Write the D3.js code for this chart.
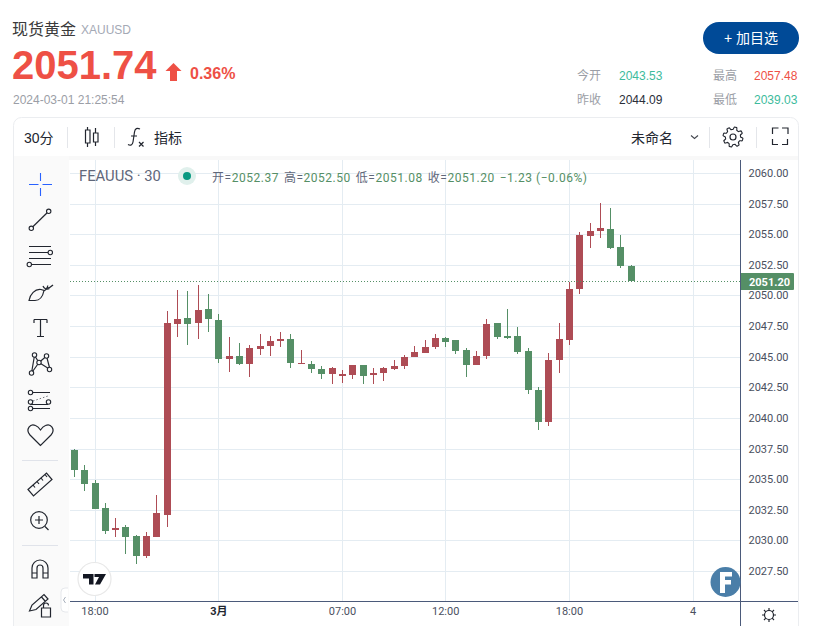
<!DOCTYPE html>
<html><head><meta charset="utf-8">
<script src="https://cdn.jsdelivr.net/npm/d3@7"></script>
<style>
html,body{margin:0;padding:0;background:#fff;overflow:hidden}
svg{display:block}
text{font-family:"Liberation Sans","Noto Sans CJK SC",sans-serif}
.axt text{font-family:Roboto,"Noto Sans CJK SC",sans-serif}
</style></head><body>
<svg id="c" width="824" height="626"></svg>
<script>
// ---- data ----
const opens =[2037.37,2035.74,2034.68,2032.64,2030.84,2031.09,2030.35,2028.72,2030.27,2032.07,2047.66,2048.15,2047.74,2048.88,2047.99,2044.80,2045.05,2044.39,2045.62,2045.86,2046.27,2046.44,2044.39,2044.43,2044.02,2043.61,2043.45,2043.53,2044.34,2043.53,2043.69,2044.02,2044.26,2045.00,2045.32,2045.81,2046.55,2046.38,2045.57,2044.34,2045.08,2047.77,2046.71,2046.71,2045.49,2042.30,2039.69,2044.69,2046.33,2050.50,2054.83,2055.24,2055.40,2053.93,2052.37];
const highs =[2037.46,2036.15,2034.93,2033.05,2031.82,2031.25,2030.44,2030.68,2033.70,2048.72,2050.44,2050.35,2050.84,2050.11,2048.48,2046.60,2046.11,2045.95,2046.84,2046.68,2047.01,2046.84,2045.54,2044.67,2044.26,2044.18,2043.94,2044.34,2044.34,2044.10,2044.18,2044.75,2045.16,2045.89,2046.38,2046.87,2046.63,2046.38,2045.73,2045.49,2048.10,2047.77,2048.91,2047.45,2045.73,2042.55,2045.32,2047.72,2051.07,2055.16,2055.89,2057.53,2057.12,2054.91,2052.50];
const lows  =[2035.17,2034.03,2032.56,2030.52,2030.27,2028.88,2028.07,2028.56,2030.27,2031.09,2046.60,2045.95,2046.44,2047.01,2044.48,2043.74,2044.31,2043.33,2045.13,2045.05,2045.78,2044.07,2044.39,2043.69,2043.20,2042.79,2042.87,2043.20,2042.79,2042.79,2043.04,2043.94,2044.02,2045.00,2045.32,2045.65,2045.81,2045.24,2043.36,2044.34,2044.83,2046.47,2046.47,2045.24,2041.98,2039.04,2039.36,2043.63,2045.92,2050.09,2053.85,2054.67,2053.77,2052.21,2051.08];
const closes=[2035.74,2034.60,2032.56,2030.76,2031.01,2030.27,2028.72,2030.35,2032.23,2047.74,2048.07,2047.66,2048.80,2048.07,2044.80,2045.05,2044.39,2045.70,2045.86,2046.27,2046.44,2044.48,2044.48,2044.02,2043.61,2044.10,2043.61,2044.34,2043.45,2043.69,2044.10,2044.26,2045.00,2045.40,2045.81,2046.55,2046.22,2045.49,2044.34,2045.08,2047.69,2046.63,2046.55,2045.40,2042.30,2039.69,2044.75,2046.41,2050.50,2054.91,2055.24,2055.48,2053.85,2052.38,2051.20];
const yTickValues=[2060,2057.5,2055,2052.5,2050,2047.5,2045,2042.5,2040,2037.5,2035,2032.5,2030,2027.5];
const xTickBars=[2,14,26,36,48,60];
const xTickLabels=["18:00","3月","07:00","12:00","18:00","4"];
const lastPrice=2051.20;
const legendLabels=["开=","高=","低=","收="];
const legendValues=["2052.37","2052.50","2051.08","2051.20"];
const legendChange="−1.23 (−0.06%)";
const statLabels=["今开","昨收","最高","最低"];
const statValues=["2043.53","2044.09","2057.48","2039.03"];
const statColors=["#3dbb9c","#2a2e39","#ee5045","#3dbb9c"];

const UP="#ae4c55",DOWN="#558f66",GRID="#e4ecf2",AXIS="#4b5a7a",TXT="#4a4f5e",ICON="#22262f";
const svg=d3.select("#c");
const x=d3.scaleLinear().domain([0,54]).range([74.4,631.3]);
const y=d3.scaleLinear().domain([2027.5,2060]).range([571,173]);
const snapY=v=>Math.round(y(v));

function T(px,py,s,size,fill,opt={}){
  const t=svg.append("text").attr("x",px).attr("y",py).attr("font-size",size).attr("fill",fill).text(s);
  if(opt.anchor)t.attr("text-anchor",opt.anchor);
  if(opt.weight)t.attr("font-weight",opt.weight);
  if(opt.family)t.style("font-family",opt.family);
  return t;
}
// panel
svg.append("rect").attr("x",13.5).attr("y",117.5).attr("width",785).attr("height",530).attr("rx",8).attr("fill","#fff").attr("stroke","#ebedf0");
svg.append("rect").attr("x",14).attr("y",156).attr("width",784).attr("height",4).attr("fill","#f8f8f8");
svg.append("rect").attr("x",14).attr("y",156).attr("width",55).attr("height",470).attr("fill","#fafafa");

// header
T(12,35,"现货黄金",16,"#3a3a3a");
T(81,34,"XAUUSD",12,"#a4a9b5");
T(12,79,"2051.74",40,"#ee5045",{weight:"bold"});
svg.append("path").attr("d","M173.500 63l-8 8h4.500v10h7v-10h4.500z").attr("fill","#ee5045");
T(190,79,"0.36%",16,"#ee5045",{weight:"bold"});
T(13,104,"2024-03-01 21:25:54",12,"#9b9ea6");
svg.append("rect").attr("x",703).attr("y",22).attr("width",96).attr("height",32).attr("rx",16).attr("fill","#004a97");
T(751,43,"+ 加目选",14,"#fff",{anchor:"middle"});
[[577,619,80],[577,619,104],[713,754,80],[713,754,104]].forEach((p,i)=>{
  T(p[0],p[2],statLabels[i],12,"#9b9ea6");
  T(p[1],p[2],statValues[i],12,statColors[i]);
});

// top toolbar
T(24,143,"30分",14,"#22262f");
T(154,143,"指标",14,"#22262f");
T(631,143,"未命名",14,"#22262f");
[67.5,114.5,709.5,756.5].forEach(px=>svg.append("line").attr("x1",px).attr("x2",px).attr("y1",127).attr("y2",148).attr("stroke","#e4e6ea"));
const icon=(d,w=1.2,c=ICON,f="none")=>svg.append("path").attr("d",d).attr("fill",f).attr("stroke",c).attr("stroke-width",w);
icon("M87.500 127v3M87.500 143v4M85.500 130h4.500v13h-4.500zM95.500 128v5M95.500 142v4M93.500 133h4.500v9h-4.500z");
icon("M140 129c-3-1.500-5-.5-5.500 3l-1.500 10c-.5 3-2.500 4-5 2.500M131 136h6");
icon("M139 142l4.500 4.500M143.500 142l-4.500 4.500");
icon("M691 135.500l3.500 3 3.500-3",1.1,"#44484f");
// gear
const gearPts=d3.range(0,48).map(i=>{const a=(i+1)/48*2*Math.PI,k=Math.floor(i/3)%2===0,r=k?10:7.6;return [733+r*Math.cos(a),137+r*Math.sin(a)];});
svg.append("path").attr("d",d3.line().curve(d3.curveCardinalClosed.tension(.6))(gearPts)).attr("fill","none").attr("stroke",ICON).attr("stroke-width",1.1);
svg.append("circle").attr("cx",733).attr("cy",137).attr("r",3).attr("fill","none").attr("stroke",ICON).attr("stroke-width",1.2);
icon("M772.500 134v-6h6M782 128h6v6M787.500 139v5.500h-5.500M778 144.500h-5.500V139");

// grid
const g=svg.append("g");
yTickValues.forEach(v=>g.append("line").attr("x1",70).attr("x2",740).attr("y1",snapY(v)+.5).attr("y2",snapY(v)+.5).attr("stroke",GRID));
xTickBars.forEach(b=>g.append("line").attr("x1",Math.floor(x(b))+.5).attr("x2",Math.floor(x(b))+.5).attr("y1",160).attr("y2",601).attr("stroke",GRID));

// legend
T(79,181,"FEAUUS · 30",14.8,"#5f677a",{family:"Roboto"});
svg.append("circle").attr("cx",187).attr("cy",176).attr("r",9).attr("fill","#e0f0ec");
svg.append("circle").attr("cx",187).attr("cy",176).attr("r",4).attr("fill","#089981");
const leg=svg.append("text").attr("x",212).attr("y",182).attr("font-size",12).attr("letter-spacing",.52).style("font-family","Roboto,'Noto Sans CJK SC'");
legendLabels.forEach((l,i)=>{
  leg.append("tspan").attr("fill","#5f677a").attr("dx",i?5:0).text(l);
  leg.append("tspan").attr("fill",DOWN).text(legendValues[i]);
});
leg.append("tspan").attr("fill",DOWN).attr("dx",5).text(legendChange);

// candles
const idx=d3.range(opens.length);
const col=i=>closes[i]>=opens[i]?UP:DOWN;
svg.append("g").selectAll("rect").data(idx).join("rect")
  .attr("x",i=>Math.floor(x(i))).attr("width",1)
  .attr("y",i=>snapY(highs[i])).attr("height",i=>snapY(lows[i])-snapY(highs[i]))
  .attr("fill",col);
svg.append("g").selectAll("rect").data(idx).join("rect")
  .attr("x",i=>Math.floor(x(i))-3).attr("width",7)
  .attr("y",i=>snapY(Math.max(opens[i],closes[i])))
  .attr("height",i=>Math.max(1,snapY(Math.min(opens[i],closes[i]))-snapY(Math.max(opens[i],closes[i]))))
  .attr("fill",col);

// last price line
svg.append("line").attr("x1",70).attr("x2",740).attr("y1",snapY(lastPrice)+.5).attr("y2",snapY(lastPrice)+.5)
  .attr("stroke",DOWN).attr("stroke-dasharray","1 2");

// axes
const yAxis=d3.axisRight(y).tickValues(yTickValues).tickFormat(d3.format(".2f")).tickSize(0).tickPadding(8);
svg.append("g").attr("class","axt").attr("transform","translate(740.5,0)").call(yAxis)
  .call(s=>s.select(".domain").remove())
  .call(s=>s.selectAll("text").attr("font-size",11).attr("fill",TXT));
const xAxis=d3.axisBottom(x).tickValues(xTickBars).tickFormat((d,i)=>xTickLabels[i]).tickSize(0).tickPadding(6);
svg.append("g").attr("class","axt").attr("transform","translate(-0.5,601.5)").call(xAxis)
  .call(s=>s.select(".domain").remove())
  .call(s=>s.selectAll("text").attr("font-size",11).attr("fill",(d,i)=>i===1?"#22262f":TXT).attr("font-weight",(d,i)=>i===1?"bold":null));
svg.append("line").attr("x1",740.5).attr("x2",740.5).attr("y1",160).attr("y2",626).attr("stroke",AXIS);
svg.append("line").attr("x1",70).attr("x2",798).attr("y1",601.5).attr("y2",601.5).attr("stroke",AXIS);

// price tag
svg.append("path").attr("d","M741 273h52a1 1 0 0 1 1 1v15a1 1 0 0 1 -1 1h-52z").attr("fill",DOWN);
T(749,286,d3.format(".2f")(lastPrice),11,"#fff",{weight:"bold",family:"Roboto"});

// logos
svg.append("circle").attr("cx",94.5).attr("cy",579).attr("r",16.5).attr("fill","#fff").attr("stroke","#e8e8e8").attr("stroke-width",1.2);
svg.append("path").attr("d","M83 574h10.500v10.500h-4.500v-6h-6zM94.500 574h11.500l-6 10.500h-5l4-7.500h-4.500z").attr("fill","#131722");
svg.append("circle").attr("cx",725.500).attr("cy",582).attr("r",15).attr("fill","#4a7ea8");
svg.append("path").attr("d","M720 572h12v4.500h-7v3.500h6v4.500h-6v8.500h-5z").attr("fill","#fff");
svg.append("path").attr("d","M68 588h-3a4 4 0 0 0-4 4v16a4 4 0 0 0 4 4h3").attr("fill","#fff").attr("stroke","#e6e8ec");
svg.append("path").attr("d","M65.500 597l-2 3l2 3").attr("fill","none").attr("stroke","#a8b0bc");
// sun
svg.append("circle").attr("cx",769).attr("cy",615).attr("r",4.500).attr("fill","none").attr("stroke",ICON).attr("stroke-width",1.2);
icon("M769 608v2.500M769 619.500v2.500M762 615h2.500M773.500 615h2.500M764 610l1.800 1.800M772.200 618.200l1.800 1.800M764 620l1.800-1.800M772.200 611.800l1.800-1.800");

// left toolbar icons
const circ=(cx,cy,r=2.2)=>svg.append("circle").attr("cx",cx).attr("cy",cy).attr("r",r).attr("fill","#fafafa").attr("stroke",ICON).attr("stroke-width",1.1);
icon("M29 184.500h9.500M42.500 184.500h9.500M40.500 173v8M40.500 188v8",1.1,"#2962ff");
icon("M31.300 228.300L48.700 211.300");circ(31.300,228.300);circ(48.700,211.300);
icon("M29 246.500h22M29 252.500h19M29 258.500h22M31 264.500h20");circ(50.300,252.500);circ(29.300,264.500);
icon("M29 300.500c1-6 6-12 12-11l3 1c-1 5-4 10-9 10zM44 291c3-1 3-4 4-5.500M43 286c1 3 4 4 6.500 2.500M47 288c2 0 4-1 6-3");
icon("M34 319.500h13M34 319.500v3.500M47 319.500v3.500M40.500 319.500v17M37 336.500h7");
icon("M31.500 373L34.500 355.500L39 362.500L46.500 356L50 369.500L39 362.500M31.500 373L39 362.500M39 362.500L34.500 355.500");
[[31.500,373],[34.500,355],[39,362.500],[46.500,356],[49.500,369.500]].forEach(p=>circ(p[0],p[1]));
icon("M30 392.500h20M30 404.500h18M30 408.500h20");
icon("M33 401l15-5",1,"#70747c").attr("stroke-dasharray","1.500 2");
[[30.500,392.500],[30.500,402],[48.500,402],[30.500,408.500]].forEach(p=>circ(p[0],p[1]));
icon("M40.500 445.500L30 435c-5-6 .5-12 5.500-9.500c2.500 1 4 3 5 4.500c1-1.500 2.500-3.500 5-4.500c5-2.500 10.500 3.500 5.500 9.500z");
[460,545].forEach(py=>svg.append("line").attr("x1",22).attr("x2",58).attr("y1",py+.5).attr("y2",py+.5).attr("stroke","#e0e3ea"));
icon("M28 489.500L46.500 473L52 479.500L33.500 496zM33 485l2 2.500M37 481.500l2 2.500M41 478l2 2.500M45 474.500l2 2.500");
svg.append("circle").attr("cx",39).attr("cy",520).attr("r",8.300).attr("fill","none").attr("stroke",ICON).attr("stroke-width",1.2);
icon("M45 526.500l3.500 3.500M39 516v8M35 520h8");
icon("M32 578v-10a8 8 0 0 1 16 0v10h-5v-10a3 3 0 0 0-6 0v10zM32 573h5M43 573h5");
icon("M29.500 611l2.500-6l12-10.500l4 4.500l-12 10.500zM41.500 597l4 4.500");
icon("M41.500 608h9v9h-9zM43.500 608v-2.500a2.500 2.500 0 0 1 5 0");
</script>
</body></html>
